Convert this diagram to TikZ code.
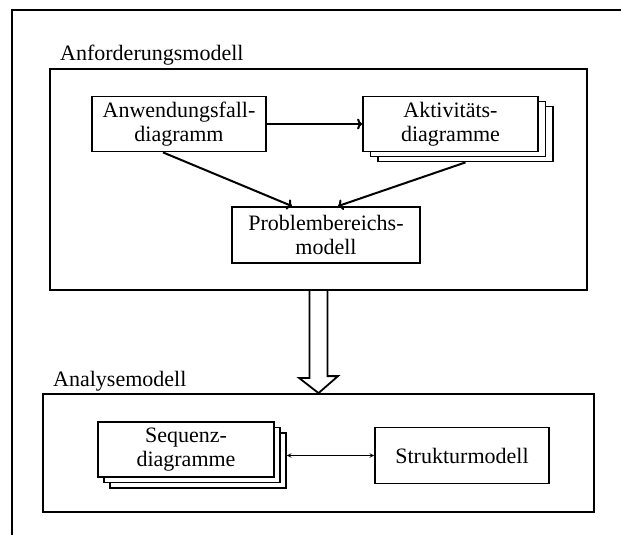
\documentclass[tikz,border=0pt]{standalone}
\usepackage{fontspec}
\setmainfont{Liberation Serif}
\usepackage{tikz}
\usetikzlibrary{arrows,arrows.meta,positioning,calc,shadows}

\begin{document}
\begin{tikzpicture}[x=1pt,y=-1pt,
		box/.style={draw,line width=1.8pt,fill=white,align=center,inner sep=0pt,
			font=\fontsize{22}{24}\selectfont},
		stacked/.style 2 args={copy shadow={shadow xshift=2*#1,shadow yshift=-2*#2},
			copy shadow={shadow xshift=#1,shadow yshift=-#2}},
		title/.style={anchor=base west,inner sep=0pt,font=\fontsize{22}{24}\selectfont},
		link/.style={line width=2pt,-{To[length=5pt,width=11pt]}}]
	\useasboundingbox (0,0) rectangle (621,535);
	\draw[line width=1.1pt] (12,535) -- (12,10) -- (621,10);
	% Anforderungsmodell
	\node[box,minimum width=537pt,minimum height=221pt] (anf) at (318.5,179.5) {};
	\node[title] (anftitle) at (60,61) {Anforderungsmodell};
	\node[box,minimum width=174pt,minimum height=55pt] (anw) at (179,124) {Anwendungsfall-\\diagramm};
	\node[box,stacked={7.5pt}{5pt},minimum width=175pt,minimum height=55pt] (akt) at (450.5,124) {Aktivitäts-\\diagramme};
	\node[box,minimum width=188pt,minimum height=56pt] (prob) at (326,235) {Problembereichs-\\modell};
	\draw[link] (anw) -- (akt);
	\draw[link] ([xshift=-16pt]anw.south) -- ([xshift=-34pt]prob.north);
	\draw[link] ([xshift=15pt,yshift=-10pt]akt.south) -- ([xshift=12pt]prob.north);
	% Analysemodell
	\node[title] (anatitle) at (53,386) {Analysemodell};
	\node[box,minimum width=551pt,minimum height=118pt] (ana) at (318.5,453) {};
	\node[box,stacked={6pt}{5.5pt},minimum width=176pt,minimum height=55pt] (seq) at (186,449.5) {Sequenz-\\diagramme};
	\node[box,minimum width=174pt,minimum height=56pt] (str) at (462,455.5) {Strukturmodell};
	\coordinate (seqback) at ([xshift=12pt]seq.east);
	\draw[<->,>=stealth,line width=1pt] (seqback |- str.west) -- (str.west);
	% Pfeil zwischen den Modellen
	\draw[line width=1.8pt] ([xshift=-9pt]anf.south) -- ++(0,87) -- ++(-10.5,0) -- (ana.north)
		-- ++(19.5,-17) -- ++(-10.5,0) -- ([xshift=9pt]anf.south);
\end{tikzpicture}
\end{document}
